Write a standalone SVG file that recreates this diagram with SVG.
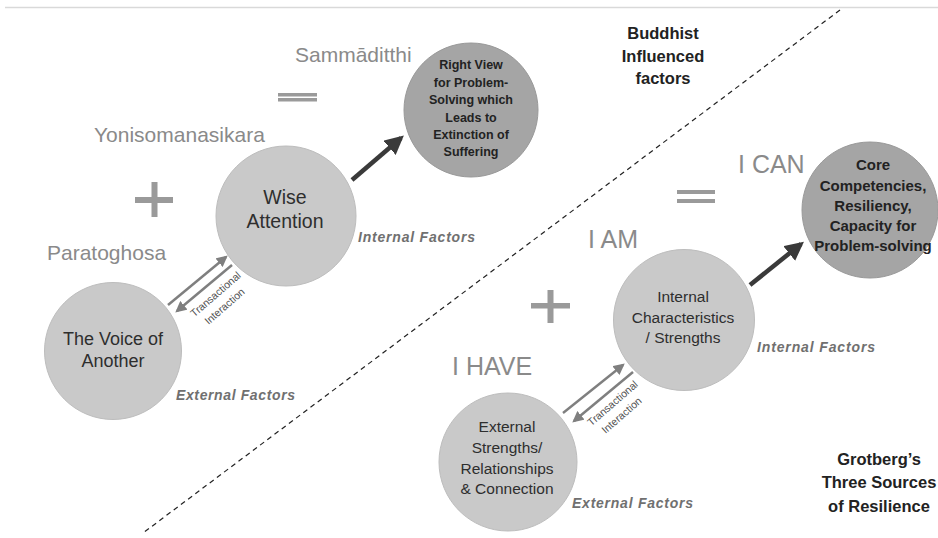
<svg xmlns="http://www.w3.org/2000/svg" width="938" height="538" viewBox="0 0 938 538">
<defs>
<marker id="ahDark" viewBox="0 0 10 10" refX="8" refY="5" markerWidth="4.2" markerHeight="4.2" orient="auto" markerUnits="strokeWidth"><path d="M0,0 L10,5 L0,10 z" fill="#3a3a3a"/></marker>
<marker id="ahGray" viewBox="0 0 10 10" refX="8" refY="5" markerWidth="4.5" markerHeight="4.5" orient="auto" markerUnits="strokeWidth"><path d="M0,0 L10,5 L0,10 z" fill="#7f7f7f"/></marker>
</defs>
<style>
.light{fill:#c9c9c9;stroke:#bdbdbd;stroke-width:1}
.dark{fill:#a5a5a5;stroke:#999;stroke-width:1}
.big{font-family:"Liberation Sans",Arial,sans-serif;fill:#8a8a8a}
.sign{fill:#9a9a9a}
.node{font-family:"Liberation Sans",Arial,sans-serif;fill:#2e2e2e;text-anchor:middle}
.bold{font-weight:bold;fill:#222}
.factor{font-family:"Liberation Sans",Arial,sans-serif;font-style:italic;font-weight:bold;fill:#707070;font-size:14px}
.trans{font-family:"Liberation Sans",Arial,sans-serif;fill:#505050;font-size:10.5px;text-anchor:middle}
.title{font-family:"Liberation Sans",Arial,sans-serif;font-weight:bold;fill:#222;font-size:16.5px;text-anchor:middle}
.thick{stroke:#3a3a3a;stroke-width:4.5;fill:none}
.thin{stroke:#7f7f7f;stroke-width:2.5;fill:none}
</style>
<rect width="938" height="538" fill="#fff"/>
<line x1="5" y1="7.5" x2="938" y2="7.5" stroke="#d9d9d9" stroke-width="1.5"/>
<line x1="840" y1="10" x2="143" y2="533" stroke="#222" stroke-width="1.2" stroke-dasharray="5,4"/>

<g id="labels">
<text class="big" x="295" y="62" font-size="21">Sammāditthi</text>
<rect class="sign" x="278" y="93" width="39" height="3.5"/>
<rect class="sign" x="278" y="98" width="39" height="3.5"/>
<text class="big" x="94" y="142" font-size="21">Yonisomanasikara</text>
<rect class="sign" x="135" y="197" width="38" height="6"/>
<rect class="sign" x="151.5" y="182" width="6" height="35"/>
<text class="big" x="47" y="260" font-size="21">Paratoghosa</text>
<text class="big" x="738" y="173" font-size="25">I CAN</text>
<rect class="sign" x="677" y="190" width="38" height="4"/>
<rect class="sign" x="677" y="199" width="38" height="4"/>
<text class="big" x="588" y="248" font-size="25">I AM</text>
<rect class="sign" x="531" y="303" width="39" height="5.5"/>
<rect class="sign" x="547.5" y="290" width="6" height="33"/>
<text class="big" x="452" y="375" font-size="25">I HAVE</text>
<text class="title" x="663" y="39">Buddhist</text>
<text class="title" x="663" y="62">Influenced</text>
<text class="title" x="663" y="84">factors</text>
<text class="title" x="879" y="465" font-size="16">Grotberg’s</text>
<text class="title" x="879" y="488">Three Sources</text>
<text class="title" x="879" y="512">of Resilience</text>
<text class="factor" x="358" y="242" textLength="117">Internal Factors</text>
<text class="factor" x="176" y="400" textLength="119">External Factors</text>
<text class="factor" x="757" y="352" textLength="118">Internal Factors</text>
<text class="factor" x="572" y="508" textLength="121">External Factors</text>
<text class="trans" transform="translate(218,297) rotate(-41)">Transactional</text>
<text class="trans" transform="translate(227,309) rotate(-41)">Interaction</text>
<text class="trans" transform="translate(615,406) rotate(-41)">Transactional</text>
<text class="trans" transform="translate(624,418) rotate(-41)">Interaction</text>
</g>

<g id="connectors">
<line class="thick" x1="352" y1="180" x2="401" y2="138" marker-end="url(#ahDark)"/>
<line class="thick" x1="750" y1="285" x2="801" y2="244" marker-end="url(#ahDark)"/>
<line class="thin" x1="168" y1="305" x2="226" y2="257" marker-end="url(#ahGray)"/>
<line class="thin" x1="232" y1="265" x2="177" y2="311" marker-end="url(#ahGray)"/>
<line class="thin" x1="563" y1="413" x2="623" y2="365" marker-end="url(#ahGray)"/>
<line class="thin" x1="633" y1="372" x2="574" y2="421" marker-end="url(#ahGray)"/>
</g>

<g id="right-view">
<circle class="dark" cx="471" cy="110" r="67"/>
<text class="node bold" font-size="12.5"><tspan x="471" y="68.5">Right View</tspan><tspan x="471" y="86.5">for Problem-</tspan><tspan x="471" y="104">Solving which</tspan><tspan x="471" y="121.5">Leads to</tspan><tspan x="471" y="139">Extinction of</tspan><tspan x="471" y="156">Suffering</tspan></text>
</g>
<g id="wise-attention">
<circle class="light" cx="286" cy="216" r="70"/>
<text class="node" font-size="19.5"><tspan x="285" y="204">Wise</tspan><tspan x="285" y="228">Attention</tspan></text>
</g>
<g id="voice-of-another">
<circle class="light" cx="113" cy="351" r="68.5"/>
<text class="node" font-size="18"><tspan x="113" y="345">The Voice of</tspan><tspan x="113" y="367">Another</tspan></text>
</g>
<g id="core-competencies">
<circle class="dark" cx="870" cy="210" r="68"/>
<text class="node bold" font-size="15"><tspan x="873" y="170">Core</tspan><tspan x="873" y="191">Competencies,</tspan><tspan x="873" y="211">Resiliency,</tspan><tspan x="873" y="231">Capacity for</tspan><tspan x="873" y="251">Problem-solving</tspan></text>
</g>
<g id="internal-characteristics">
<circle class="light" cx="684" cy="320" r="70.5"/>
<text class="node" font-size="15.5"><tspan x="683" y="302">Internal</tspan><tspan x="683" y="323">Characteristics</tspan><tspan x="683" y="343">/ Strengths</tspan></text>
</g>
<g id="external-strengths">
<circle class="light" cx="508" cy="462" r="69"/>
<text class="node" font-size="15.5"><tspan x="507" y="432">External</tspan><tspan x="507" y="453">Strengths/</tspan><tspan x="507" y="474">Relationships</tspan><tspan x="507" y="494">&amp; Connection</tspan></text>
</g>
</svg>
